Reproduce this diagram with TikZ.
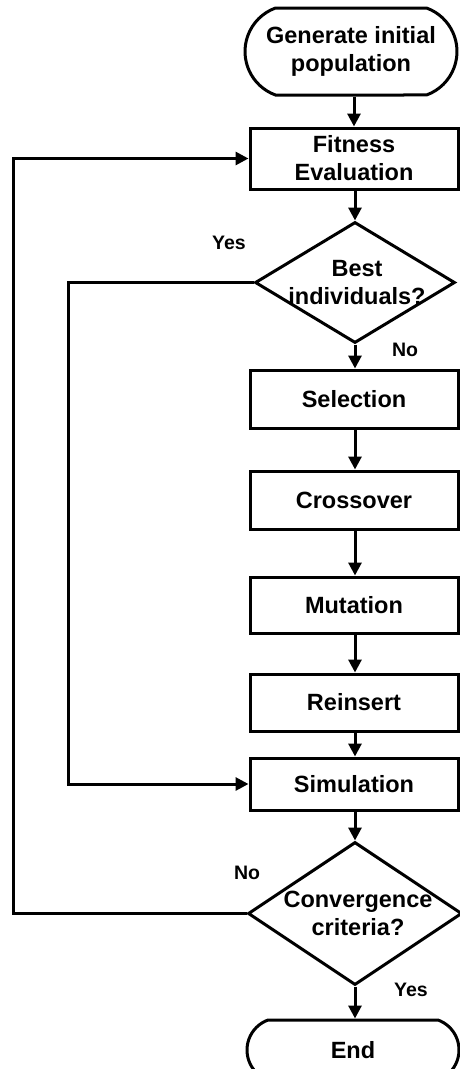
\documentclass[tikz,border=0pt]{standalone}
\usepackage{fontspec}
\setmainfont{Liberation Sans}
\usetikzlibrary{arrows.meta,shapes.geometric,shapes.misc}
\tikzset{
  box/.style={draw, line width=3pt, rectangle, minimum width=208pt, inner sep=0pt, align=center, font=\bfseries\fontsize{23.5}{28}\selectfont},
  term/.style={draw, line width=3pt, rounded rectangle, rounded rectangle arc length=140, minimum width=212pt, inner sep=0pt, align=center, font=\bfseries\fontsize{23.5}{28}\selectfont},
  dia/.style={draw, line width=3pt, diamond, inner sep=0pt},
  txt/.style={align=center, inner sep=0pt, font=\bfseries\fontsize{23.5}{28.5}\selectfont},
  lbl/.style={inner sep=0pt, font=\bfseries\fontsize{19.5}{22}\selectfont},
  arr/.style={line width=3pt, -{Triangle[length=13pt,width=13pt]}}
}
\begin{document}
\begin{tikzpicture}[x=1pt,y=-1pt]
\useasboundingbox (0,0) rectangle (459,1069);
\node[term, minimum height=87pt] (gen) at (351,51.5) {Generate initial\\population};
\node[box, minimum height=61pt] (fit) at (354,158.5) {Fitness\\Evaluation};
\node[dia, minimum width=200pt, minimum height=121pt] (d1) at (355,282.5) {};
\node[txt] (d1t) at (357,282.5) {Best\\individuals?};
\node[box, minimum height=58pt] (sel) at (354,399) {Selection};
\node[box, minimum height=58pt] (cross) at (354,500) {Crossover};
\node[box, minimum height=56pt] (mut) at (354,605) {Mutation};
\node[box, minimum height=57pt] (reins) at (354,702.5) {Reinsert};
\node[box, minimum height=52pt] (sim) at (354,784) {Simulation};
\node[dia, minimum width=214pt, minimum height=143pt] (d2) at (355,913.5) {};
\node[txt] (d2t) at (358,913.5) {Convergence\\criteria?};
\node[term, minimum height=60pt] (end) at (353,1050) {End};

\coordinate (loopA) at (68,0);
\coordinate (loopB) at (13,0);

\draw[arr] (gen.south -| fit.north) -- (fit.north);
\draw[arr] (fit.south -| d1.north) -- (d1.north);
\draw[arr] (d1.south) -- (d1.south |- sel.north);
\draw[arr] (sel.south -| d1.south) -- (d1.south |- cross.north);
\draw[arr] (cross.south -| d1.south) -- (d1.south |- mut.north);
\draw[arr] (mut.south -| d1.south) -- (d1.south |- reins.north);
\draw[arr] (reins.south -| d1.south) -- (d1.south |- sim.north);
\draw[arr] (sim.south -| d2.north) -- (d2.north);
\draw[arr] (d2.south) -- (d2.south |- end.north);
\draw[arr] (d1.west) -- (d1.west -| loopA) |- (sim.west);
\draw[arr] (d2.west) -- (d2.west -| loopB) |- (fit.west);

\node[lbl] (yes1) at (229,243) {Yes};
\node[lbl] (no1) at (405,350) {No};
\node[lbl] (no2) at (247,873) {No};
\node[lbl] (yes2) at (411,990) {Yes};
\end{tikzpicture}
\end{document}
